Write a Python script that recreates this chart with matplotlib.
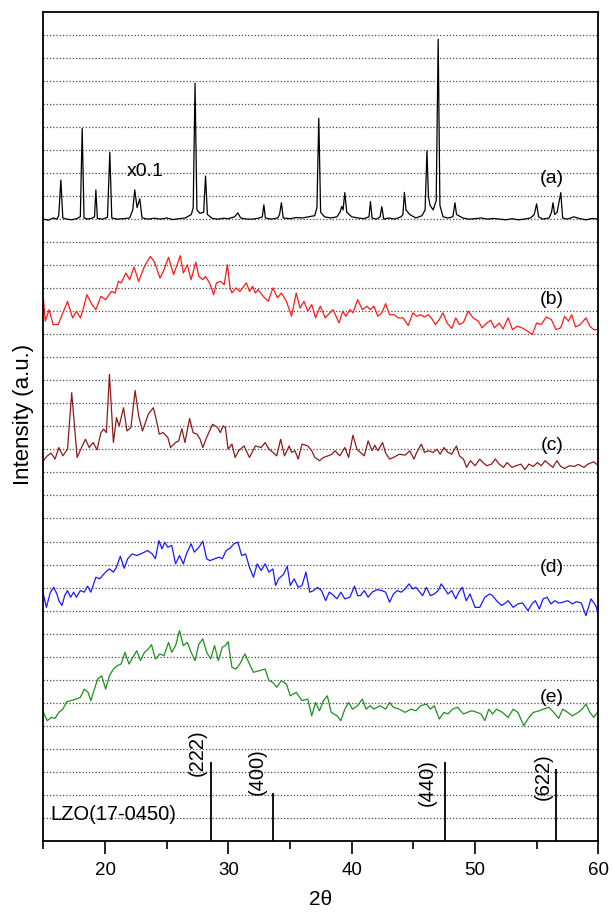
import matplotlib
matplotlib.use("Agg")
import matplotlib.pyplot as plt
from matplotlib.ticker import MultipleLocator

plt.rcParams['font.family'] = ['Liberation Sans', 'DejaVu Sans']

# pattern (a), shown x0.1 -- sharp crystalline peaks
xa = [15.0, 15.4, 15.8, 16.1, 16.25, 16.42, 16.58, 16.9, 17.3, 17.7, 18.0, 18.15, 18.3, 18.6,
      19.0, 19.15, 19.26, 19.38, 19.8, 20.2, 20.39, 20.55, 21.0, 21.5, 22.0, 22.25, 22.41, 22.6,
      22.82, 23.0, 23.5, 24.0, 24.5, 25.0, 25.5, 26.0, 26.5, 27.0, 27.15, 27.3, 27.45, 27.7,
      28.0, 28.15, 28.3, 28.7, 29.2, 29.6, 30.0, 30.5, 30.77, 31.0, 31.5, 32.0, 32.5, 32.75,
      32.88, 33.0, 33.5, 34.0, 34.15, 34.3, 34.45, 35.0, 35.5, 36.0, 36.5, 37.0, 37.18, 37.33,
      37.48, 37.8, 38.3, 38.8, 39.05, 39.19, 39.3, 39.44, 39.6, 40.0, 40.5, 41.0, 41.4, 41.52,
      41.65, 42.0, 42.3, 42.44, 42.6, 43.0, 43.5, 44.0, 44.15, 44.27, 44.4, 44.7, 45.2, 45.7,
      45.95, 46.1, 46.22, 46.35, 46.6, 46.85, 47.01, 47.15, 47.4, 47.8, 48.2, 48.37, 48.5, 49.0,
      49.5, 50.0, 50.5, 51.0, 51.5, 52.0, 52.5, 53.0, 53.5, 54.0, 54.5, 54.8, 54.99, 55.15,
      55.5, 56.0, 56.2, 56.32, 56.45, 56.65, 56.95, 57.1, 57.5, 58.0, 58.5, 59.0, 59.5, 60.0]
ya = [27.0, 26.95, 27.05, 27.0, 27.15, 28.7, 27.05, 27.0, 26.97, 27.02, 27.1, 30.94, 27.05, 27.0,
      27.05, 27.1, 28.27, 27.03, 27.0, 27.08, 29.9, 27.05, 27.0, 27.02, 27.05, 27.4, 28.27, 27.5,
      27.88, 27.05, 27.0, 27.04, 27.0, 27.05, 26.98, 27.02, 27.05, 27.2, 27.5, 32.9, 27.4, 27.25,
      27.3, 28.87, 27.2, 27.03, 27.0, 27.04, 27.02, 27.1, 27.27, 27.05, 27.0, 27.0, 27.05, 27.1,
      27.62, 27.05, 27.0, 27.05, 27.2, 27.71, 27.05, 27.02, 27.07, 27.05, 27.1, 27.15, 27.5, 31.38,
      27.3, 27.1, 27.05, 27.1, 27.3, 27.55, 27.4, 28.15, 27.3, 27.1, 27.05, 27.02, 27.1, 27.76,
      27.05, 27.0, 27.1, 27.54, 27.0, 27.05, 27.0, 27.1, 27.2, 28.16, 27.4, 27.2, 27.05, 27.15,
      27.4, 29.97, 28.0, 27.6, 27.4, 27.8, 34.81, 27.6, 27.1, 27.05, 27.1, 27.71, 27.2, 27.05,
      27.0, 27.02, 27.05, 27.0, 27.03, 27.0, 26.97, 27.02, 26.97, 27.0, 27.05, 27.2, 27.66, 27.1,
      27.0, 27.05, 27.3, 27.71, 27.2, 27.3, 28.15, 27.05, 27.0, 27.1, 27.02, 26.97, 27.03, 27.0]

# pattern (b)
xb = [15.00, 15.16, 15.47, 15.79, 16.20, 16.58, 16.96, 17.37, 17.68, 18.00, 18.22, 18.53, 18.94,
      19.26, 19.67, 20.05, 20.52, 20.83, 21.09, 21.31, 21.69, 22.00, 22.35, 22.73, 23.20, 23.67,
      23.99, 24.46, 24.78, 25.15, 25.56, 26.10, 26.35, 26.67, 26.98, 27.36, 27.61, 27.93, 28.15,
      28.47, 28.81, 29.03, 29.35, 29.66, 29.92, 30.14, 30.29, 30.61, 30.93, 31.24, 31.46, 31.71,
      31.97, 32.19, 32.41, 32.82, 33.23, 33.61, 33.98, 34.30, 34.71, 35.12, 35.50, 35.81, 36.13,
      36.44, 36.76, 37.07, 37.45, 37.86, 38.08, 38.49, 38.97, 39.28, 39.53, 39.85, 40.10, 40.48,
      40.86, 41.24, 41.49, 41.80, 42.12, 42.44, 42.75, 43.07, 43.44, 43.76, 44.17, 44.58, 44.96,
      45.27, 45.59, 45.90, 46.22, 46.54, 46.79, 47.10, 47.39, 47.73, 48.11, 48.43, 48.74, 49.06,
      49.44, 49.85, 50.26, 50.57, 50.95, 51.27, 51.58, 51.96, 52.27, 52.68, 53.03, 53.41, 53.79,
      54.26, 54.64, 54.99, 55.36, 55.77, 56.18, 56.56, 56.94, 57.26, 57.57, 57.83, 58.14, 58.52,
      58.99, 59.31, 59.62, 60.00]
yb = [23.58, 22.57, 23.07, 22.42, 22.42, 22.93, 23.43, 22.71, 23.00, 22.71, 23.07, 23.72, 23.29,
      23.07, 23.65, 23.50, 23.86, 23.79, 24.30, 24.23, 24.66, 24.37, 24.92, 24.30, 24.95, 25.38,
      25.16, 24.44, 24.80, 25.34, 24.59, 25.41, 24.66, 25.02, 24.37, 25.13, 24.51, 24.37, 24.51,
      24.23, 23.72, 24.23, 24.30, 24.15, 25.02, 24.01, 23.79, 24.01, 23.86, 24.08, 24.23, 23.86,
      24.08, 23.79, 23.94, 23.65, 23.43, 24.01, 23.58, 23.79, 23.43, 22.78, 23.79, 23.14, 23.43,
      23.00, 23.29, 22.71, 23.22, 22.71, 22.85, 23.07, 22.49, 23.00, 22.78, 23.07, 22.93, 23.50,
      23.07, 23.22, 23.07, 23.22, 22.78, 22.93, 23.33, 22.85, 22.85, 22.71, 22.71, 22.38, 22.93,
      22.78, 22.85, 22.75, 22.85, 22.64, 22.42, 22.64, 22.93, 22.49, 22.25, 22.71, 22.42, 22.52,
      23.00, 22.71, 22.57, 22.28, 22.49, 22.61, 22.28, 22.49, 22.23, 22.71, 22.20, 22.35, 22.28,
      22.13, 21.99, 22.49, 22.42, 22.75, 22.64, 22.20, 22.28, 22.78, 22.57, 22.85, 22.32, 22.42,
      22.71, 22.35, 22.20, 22.20]

# pattern (c)
xc = [15.00, 15.32, 15.63, 15.95, 16.26, 16.58, 16.96, 17.30, 17.74, 18.15, 18.41, 18.72, 19.04,
      19.35, 19.67, 19.89, 20.11, 20.36, 20.68, 20.93, 21.15, 21.50, 21.78, 22.10, 22.44, 22.73,
      23.04, 23.51, 23.92, 24.15, 24.40, 24.71, 25.09, 25.31, 25.72, 25.97, 26.23, 26.48, 26.86,
      27.14, 27.46, 27.71, 27.93, 28.24, 28.72, 29.13, 29.35, 29.57, 29.76, 29.98, 30.29, 30.55,
      30.83, 31.27, 31.71, 32.19, 32.66, 32.98, 33.29, 33.61, 33.92, 34.24, 34.55, 34.93, 35.12,
      35.40, 35.66, 35.97, 36.44, 36.76, 37.01, 37.39, 37.71, 38.08, 38.40, 38.65, 39.03, 39.44,
      39.75, 40.10, 40.42, 40.70, 41.02, 41.33, 41.65, 41.87, 42.12, 42.50, 42.75, 43.07, 43.38,
      43.85, 44.33, 44.71, 45.05, 45.27, 45.65, 45.90, 46.22, 46.60, 46.91, 47.17, 47.48, 47.80,
      48.11, 48.49, 48.74, 49.06, 49.31, 49.63, 50.00, 50.38, 50.63, 50.95, 51.33, 51.64, 51.96,
      52.31, 52.59, 53.00, 53.31, 53.72, 54.04, 54.36, 54.73, 55.05, 55.36, 55.68, 55.99, 56.31,
      56.63, 56.94, 57.26, 57.64, 58.05, 58.36, 58.83, 59.15, 59.62, 60.00]
yc = [16.51, 16.72, 16.84, 16.58, 17.08, 16.72, 17.01, 19.46, 16.65, 17.15, 17.44, 17.08, 17.30,
      16.98, 17.73, 17.88, 17.73, 20.26, 17.30, 18.38, 18.02, 18.81, 17.80, 17.95, 19.56, 18.45,
      17.80, 18.53, 18.81, 18.31, 17.66, 17.73, 17.52, 17.08, 17.30, 17.37, 17.90, 17.30, 18.34,
      17.73, 17.66, 17.44, 17.08, 17.52, 18.09, 17.95, 17.73, 18.02, 17.95, 17.01, 17.23, 16.65,
      16.94, 17.15, 16.65, 17.15, 17.08, 17.30, 17.01, 16.87, 16.72, 17.44, 16.72, 17.15, 16.87,
      16.94, 16.58, 17.23, 17.15, 16.94, 16.65, 16.51, 16.65, 16.72, 16.79, 16.94, 16.72, 17.08,
      16.65, 17.62, 17.01, 16.87, 16.72, 17.37, 16.94, 17.18, 16.94, 17.30, 16.84, 16.58, 16.65,
      16.79, 16.75, 16.94, 16.58, 16.87, 17.23, 16.87, 16.94, 16.87, 17.01, 16.79, 17.08, 16.87,
      16.79, 17.15, 16.72, 16.58, 16.22, 16.51, 16.29, 16.58, 16.43, 16.29, 16.36, 16.58, 16.36,
      16.22, 16.43, 16.22, 16.29, 16.36, 16.12, 16.36, 16.26, 16.43, 16.29, 16.51, 16.36, 16.22,
      16.51, 16.26, 16.17, 16.29, 16.26, 16.35, 16.22, 16.36, 16.46, 16.29]

# pattern (d)
xd = [15.00, 15.25, 15.57, 15.85, 16.10, 16.26, 16.51, 16.73, 16.96, 17.21, 17.46, 17.68, 18.00,
      18.31, 18.59, 18.85, 19.26, 19.57, 19.79, 20.05, 20.36, 20.68, 20.93, 21.24, 21.56, 21.84,
      22.19, 22.57, 22.88, 23.20, 23.45, 23.83, 24.08, 24.37, 24.62, 24.84, 25.09, 25.41, 25.72,
      26.04, 26.35, 26.60, 26.98, 27.24, 27.61, 27.93, 28.24, 28.50, 28.88, 29.25, 29.51, 29.82,
      30.14, 30.45, 30.77, 31.08, 31.40, 31.71, 32.03, 32.34, 32.66, 32.98, 33.29, 33.61, 33.83,
      34.08, 34.49, 34.77, 35.02, 35.34, 35.66, 35.97, 36.29, 36.60, 36.92, 37.23, 37.55, 37.89,
      38.18, 38.49, 38.81, 39.12, 39.44, 39.85, 40.23, 40.48, 40.70, 41.02, 41.33, 41.65, 42.06,
      42.44, 42.75, 43.07, 43.38, 43.70, 44.01, 44.33, 44.64, 44.96, 45.21, 45.53, 45.75, 46.06,
      46.38, 46.69, 47.01, 47.26, 47.54, 47.80, 48.11, 48.43, 48.68, 48.96, 49.28, 49.59, 50.00,
      50.38, 50.79, 51.17, 51.42, 51.74, 52.15, 52.46, 52.68, 53.09, 53.47, 53.85, 54.29, 54.61,
      54.89, 55.21, 55.52, 55.84, 56.15, 56.47, 56.78, 57.10, 57.51, 57.89, 58.20, 58.61, 58.99,
      59.40, 59.78, 60.00]
yd = [10.72, 10.14, 10.80, 11.01, 10.72, 10.43, 10.22, 10.65, 10.87, 10.58, 10.80, 10.58, 10.87,
      10.80, 11.06, 10.80, 11.45, 11.38, 11.52, 11.67, 11.81, 11.67, 11.88, 12.36, 11.84, 12.25,
      12.46, 12.39, 12.46, 12.54, 12.61, 12.46, 12.25, 13.04, 12.68, 12.97, 12.75, 12.83, 12.03,
      12.39, 12.03, 12.46, 12.90, 12.54, 12.75, 13.01, 12.25, 12.17, 12.25, 12.32, 12.25, 12.61,
      12.71, 12.90, 12.97, 12.39, 12.46, 11.88, 11.45, 12.03, 11.74, 12.03, 11.67, 11.81, 11.09,
      11.38, 11.59, 11.93, 11.09, 11.38, 11.01, 11.09, 11.67, 10.80, 10.87, 11.01, 10.87, 10.43,
      10.80, 10.68, 10.51, 10.80, 10.51, 10.58, 11.06, 10.65, 10.65, 10.87, 10.58, 10.80, 10.91,
      10.87, 10.80, 10.36, 10.72, 10.87, 10.80, 10.94, 11.16, 10.94, 11.01, 10.80, 10.65, 11.01,
      10.65, 10.72, 10.87, 11.16, 10.94, 10.72, 10.87, 10.51, 10.80, 11.01, 10.43, 10.72, 10.14,
      10.14, 10.58, 10.72, 10.65, 10.43, 10.22, 10.33, 10.43, 10.14, 10.29, 10.33, 10.00, 10.29,
      10.43, 10.07, 10.51, 10.58, 10.29, 10.43, 10.33, 10.36, 10.43, 10.29, 10.39, 10.33, 9.78,
      10.51, 10.22, 9.86]

# pattern (e)
xe = [15.00, 15.32, 15.63, 15.95, 16.26, 16.58, 16.89, 17.21, 17.68, 18.00, 18.31, 18.63, 18.85,
      19.10, 19.41, 19.73, 20.05, 20.36, 20.68, 20.99, 21.31, 21.62, 21.94, 22.25, 22.57, 22.88,
      23.20, 23.51, 23.77, 24.08, 24.46, 24.78, 25.15, 25.41, 25.72, 26.04, 26.35, 26.67, 26.98,
      27.30, 27.61, 27.93, 28.24, 28.56, 28.88, 29.19, 29.51, 29.76, 29.98, 30.29, 30.61, 30.93,
      31.34, 31.71, 32.03, 32.50, 32.98, 33.29, 33.61, 33.92, 34.30, 34.71, 35.02, 35.50, 35.97,
      36.44, 36.76, 37.07, 37.39, 37.71, 38.02, 38.34, 38.81, 39.12, 39.44, 39.75, 40.07, 40.48,
      40.86, 41.17, 41.49, 41.80, 42.28, 42.75, 43.07, 43.38, 43.85, 44.33, 44.80, 45.21, 45.59,
      46.06, 46.38, 46.69, 47.10, 47.48, 47.80, 48.17, 48.58, 49.06, 49.37, 49.75, 50.16, 50.48,
      50.79, 51.11, 51.42, 51.74, 52.21, 52.68, 53.09, 53.47, 53.95, 54.36, 54.73, 55.21, 55.52,
      55.99, 56.37, 56.78, 57.10, 57.51, 57.89, 58.36, 58.68, 58.99, 59.31, 59.62, 60.00]
ye = [5.58, 5.22, 5.36, 5.32, 5.58, 5.72, 6.04, 6.09, 6.16, 6.23, 6.59, 6.45, 6.09, 6.52, 7.03,
      7.17, 6.59, 7.17, 7.46, 7.61, 7.68, 8.19, 7.68, 7.97, 8.26, 7.83, 8.19, 8.33, 8.52, 7.90,
      8.12, 8.04, 8.62, 8.19, 8.48, 9.13, 8.48, 8.62, 8.19, 7.83, 8.55, 8.77, 8.19, 7.90, 8.48,
      7.83, 8.41, 8.48, 8.65, 7.54, 7.46, 7.68, 8.12, 7.68, 7.32, 7.39, 7.46, 6.96, 6.88, 6.67,
      6.96, 6.81, 6.30, 6.45, 6.09, 6.16, 5.43, 6.01, 5.65, 6.09, 6.30, 5.58, 5.43, 5.22, 5.72,
      6.01, 5.72, 5.87, 6.16, 5.72, 5.87, 5.72, 5.87, 5.72, 6.01, 5.80, 5.72, 5.58, 5.72, 5.65,
      5.87, 5.94, 5.72, 5.87, 5.29, 5.58, 5.51, 5.72, 5.80, 5.51, 5.58, 5.65, 5.58, 5.51, 5.22,
      5.72, 5.51, 5.72, 5.58, 5.36, 5.72, 5.58, 5.00, 5.36, 5.58, 5.65, 5.72, 5.80, 5.58, 5.32,
      5.72, 5.58, 5.43, 5.58, 5.72, 5.94, 5.58, 5.36, 5.65]

# reference card LZO(17-0450)
ref_pos = [28.56, 33.6, 47.57, 56.53]
ref_int = [3.42, 2.10, 3.42, 3.11]
ref_hkl = ['(222)', '(400)', '(440)', '(622)']
hkl_x = [27.46, 32.34, 46.16, 55.52]
hkl_y = [3.83, 3.00, 2.53, 2.78]

labels = ['(a)', '(b)', '(c)', '(d)', '(e)']
label_y = [28.75, 23.5, 17.15, 11.88, 6.23]

fig = plt.figure(figsize=(6.12, 9.13), dpi=100)
ax = fig.add_axes([0.0708, 0.079, 0.907, 0.908])

ax.set_yticks(range(1, 36))
ax.yaxis.grid(True, linestyle=(0, (1, 1.6)), color='0.3', linewidth=0.9)
ax.set_axisbelow(True)

ax.plot(xa, ya, color='black', lw=0.9)
ax.plot(xb, yb, color='#ff1a1a', lw=0.9)
ax.plot(xc, yc, color='#8b1c1c', lw=0.9)
ax.plot(xd, yd, color='#1a1aff', lw=0.9)
ax.plot(xe, ye, color='#1f8f1f', lw=0.9)
ax.vlines(ref_pos, 0, ref_int, color='black', lw=1.3)

for lab, yy in zip(labels, label_y):
    ax.text(56.25, yy, lab, fontsize=14, ha='center', va='center')
for lab, hx, hy in zip(ref_hkl, hkl_x, hkl_y):
    ax.text(hx, hy, lab, fontsize=14.5, rotation=90, ha='center', va='center')
ax.text(21.8, 29.05, 'x0.1', fontsize=14, ha='left', va='center')
ax.text(15.6, 1.16, 'LZO(17-0450)', fontsize=14.5, ha='left', va='center')

ax.set_xlim(15, 60)
ax.set_ylim(0, 36)
ax.xaxis.set_major_locator(MultipleLocator(10))
ax.xaxis.set_minor_locator(MultipleLocator(5))
ax.tick_params(axis='x', which='major', direction='out', length=9.4, width=1.2, labelsize=13.5, pad=6)
ax.tick_params(axis='x', which='minor', direction='out', length=5.5, width=1.2)
ax.tick_params(axis='y', length=0, labelleft=False)
for s in ax.spines.values():
    s.set_linewidth(1.3)

ax.set_xlabel('2θ', fontsize=15, labelpad=8)
ax.set_ylabel('Intensity (a.u.)', fontsize=16)
ax.yaxis.set_label_coords(-0.017, 0.514)

fig.savefig('out.png', dpi=100)
